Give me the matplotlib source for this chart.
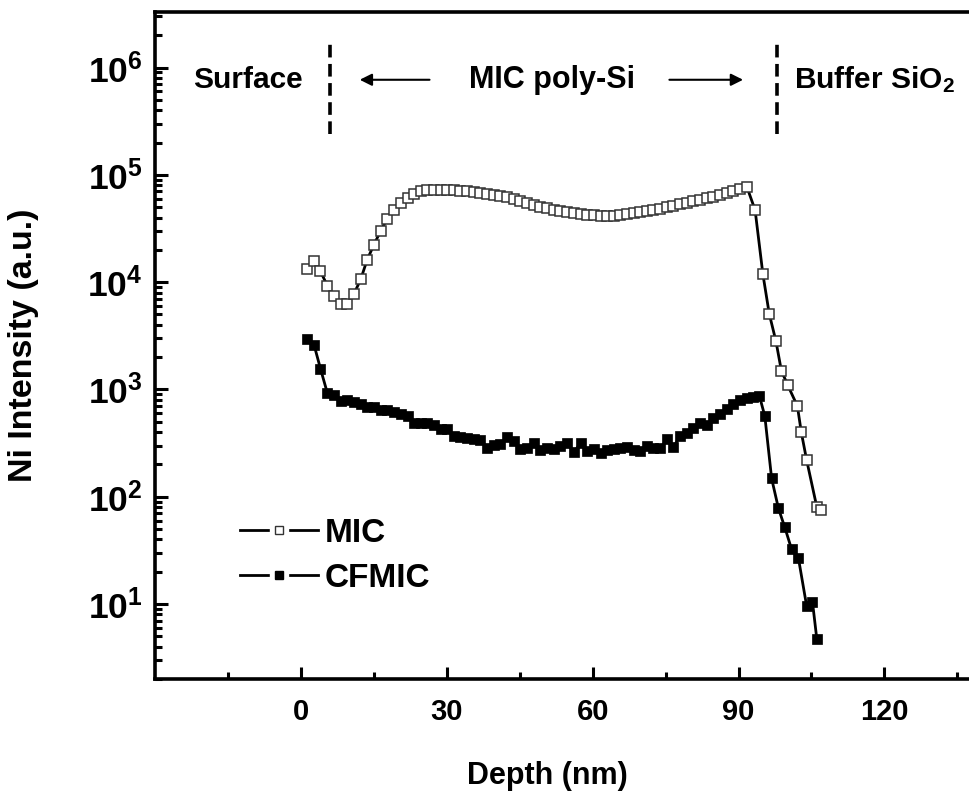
import matplotlib
matplotlib.use('Agg')
import matplotlib.pyplot as plt
from matplotlib.lines import Line2D
from matplotlib.legend_handler import HandlerTuple
from matplotlib.ticker import FixedLocator, LogLocator, NullFormatter

plt.rcParams['font.family'] = ['Liberation Sans', 'DejaVu Sans']
plt.rcParams['font.weight'] = 'bold'
plt.rcParams['mathtext.fontset'] = 'custom'
plt.rcParams['mathtext.rm'] = 'Liberation Sans:bold'
plt.rcParams['mathtext.it'] = 'Liberation Sans:bold:italic'
plt.rcParams['mathtext.bf'] = 'Liberation Sans:bold'

# depth grid (nm)
mic_depth = [1.3, 2.7, 4.0, 5.4, 6.8, 8.2, 9.5, 10.9, 12.3, 13.6, 15.0, 16.4, 17.7, 19.1,
             20.5, 21.9, 23.2, 24.6, 26.0, 27.3, 28.7, 30.1, 31.4, 32.8, 34.2, 35.5, 36.9,
             38.3, 39.7, 41.0, 42.4, 43.8, 45.1, 46.5, 47.9, 49.2, 50.6, 52.0, 53.3, 54.7,
             56.1, 57.5, 58.8, 60.2, 61.6, 62.9, 64.3, 65.7, 67.0, 68.4, 69.8, 71.2, 72.5,
             73.9, 75.3, 76.6, 78.0, 79.4, 80.7, 82.1, 83.5, 84.8, 86.2, 87.6, 88.9, 90.3,
             91.7, 93.4, 95.0, 96.3, 97.7, 98.8, 100.1, 102.1, 102.9, 104.0, 106.1, 107.0]
mic_int = [13200, 15800, 12600, 9300, 7400, 6200, 6200, 7800, 10700, 16200,
           22400, 30200, 38900, 46800, 55000, 60300, 66100, 70000, 71600, 72400,
           72400, 72100, 71600, 70800, 70000, 69200, 67900, 66800, 65300, 63500,
           61700, 59600, 57500, 55000, 52500, 50700, 49000, 47300, 45700, 44700,
           43700, 42900, 42300, 41900, 41700, 41600, 41700, 42200, 42900, 43700,
           44700, 45700, 47000, 48400, 49800, 51300, 53100, 55000, 56900, 58600,
           60500, 62700, 65300, 68100, 70800, 74100, 77600,
           47000, 11900, 5100, 2800, 1500, 1100, 700, 400, 220, 80, 76]

cf_depth = [1.3, 2.7, 4.0, 5.4, 6.8, 8.2, 9.5, 10.9, 12.3, 13.6, 15.0, 16.4, 17.7, 19.1,
            20.5, 21.9, 23.2, 24.6, 26.0, 27.3, 28.7, 30.1, 31.4, 32.8, 34.2, 35.5, 36.9,
            38.3, 39.7, 41.0, 42.4, 43.8, 45.1, 46.5, 47.9, 49.2, 50.6, 52.0, 53.3, 54.7,
            56.1, 57.5, 58.8, 60.2, 61.6, 62.9, 64.3, 65.7, 67.0, 68.4, 69.8, 71.2, 72.5,
            73.9, 75.3, 76.6, 78.0, 79.4, 80.7, 82.1, 83.5, 84.8, 86.2, 87.6, 88.9, 90.3,
            91.7, 93.0, 94.3, 95.4, 96.8, 98.2, 99.5, 100.9, 102.3, 104.0, 105.2, 106.1]
cf_int = [2970, 2580, 1560, 930, 880, 780, 795, 760, 725, 690,
          690, 650, 645, 615, 585, 565, 490, 490, 483, 462,
          424, 424, 368, 363, 355, 347, 337, 287, 301, 308,
          363, 330, 280, 285, 316, 272, 285, 280, 297, 314,
          261, 314, 266, 280, 257, 272, 280, 285, 291, 270,
          266, 297, 285, 285, 343, 291, 368, 395, 440, 483,
          462, 546, 585, 661, 725, 790, 830, 850, 866,
          565, 148, 78, 52, 32.5, 27, 9.6, 10.5, 4.7]

x_ticks = [0, 30, 60, 90, 120]

fig = plt.figure(figsize=(9.7, 7.97), dpi=100)
# axes runs past the right edge, like the cropped original
ax = fig.add_axes([0.160, 0.148, 0.852, 0.837])

ax.plot(mic_depth, mic_int, '-', color='black', lw=2, marker='s', ms=7.6,
        mfc='white', mec='#333333', mew=1.1, zorder=3)
ax.plot(cf_depth, cf_int, '-', color='black', lw=2, marker='s', ms=7.6,
        mfc='black', mec='black', mew=0.5, zorder=3)

ax.set_yscale('log')
ax.set_xlim(-30, 140)
ax.set_ylim(2, 3.3e6)

ax.xaxis.set_major_locator(FixedLocator(x_ticks))
ax.xaxis.set_minor_locator(FixedLocator([-15, 15, 45, 75, 105, 135]))
ax.yaxis.set_minor_locator(LogLocator(base=10, subs=range(2, 10), numticks=20))
ax.yaxis.set_minor_formatter(NullFormatter())
ax.set_yticks([10, 100, 1e3, 1e4, 1e5, 1e6])
ax.set_yticklabels([r'$\mathregular{10^{%d}}$' % k for k in range(1, 7)])

ax.tick_params(which='both', direction='in', width=2.2, top=False, right=False)
ax.tick_params(which='major', length=9)
ax.tick_params(which='minor', length=5)
ax.tick_params(axis='x', pad=14, labelsize=21)
ax.tick_params(axis='y', pad=9, labelsize=25.5)
for s in ax.spines.values():
    s.set_linewidth(2.6)

ax.set_xlabel('Depth (nm)', fontsize=22, fontweight='bold')
ax.set_ylabel('Ni Intensity (a.u.)', fontsize=24.5, fontweight='bold')
ax.xaxis.set_label_coords(0.475, -0.123)
ax.yaxis.set_label_coords(-0.14, 0.5)

# region markers
for xd in [6, 98]:
    ax.plot([xd, xd], [2.4e5, 1.8e6], color='black', lw=2.6, ls=(0, (3.5, 1.8)))

ax.text(-11.0, 7.7e5, 'Surface', ha='center', va='center', fontsize=21.5, fontweight='bold')
ax.text(51.6, 7.7e5, 'MIC poly-Si', ha='center', va='center', fontsize=22, fontweight='bold')
ax.text(101.5, 7.7e5, r'Buffer SiO$_2$', ha='left', va='center', fontsize=21.5, fontweight='bold')
ax.annotate('', xy=(11.5, 7.7e5), xytext=(27.0, 7.7e5),
            arrowprops=dict(arrowstyle='-|>', color='black', lw=1.5, mutation_scale=18))
ax.annotate('', xy=(91.5, 7.7e5), xytext=(75.2, 7.7e5),
            arrowprops=dict(arrowstyle='-|>', color='black', lw=1.5, mutation_scale=18))

# legend: line broken around the marker
def entry(face, edge):
    ln = Line2D([], [], color='black', lw=2)
    gap = Line2D([], [], ls='none', marker='s', ms=13, mfc='white', mec='white')
    mk = Line2D([], [], ls='none', marker='s', ms=6, mfc=face, mec=edge, mew=1)
    return (ln, gap, mk)

ax.legend([entry('white', '#333333'), entry('black', 'black')], ['MIC', 'CFMIC'],
          handler_map={tuple: HandlerTuple(ndivide=1, pad=0)},
          loc='upper left', bbox_to_anchor=(0.066, 0.287), frameon=False,
          prop={'size': 24, 'weight': 'bold'}, handlelength=2.35, handletextpad=0.2,
          labelspacing=0.42)

fig.savefig('out.png', dpi=100)
